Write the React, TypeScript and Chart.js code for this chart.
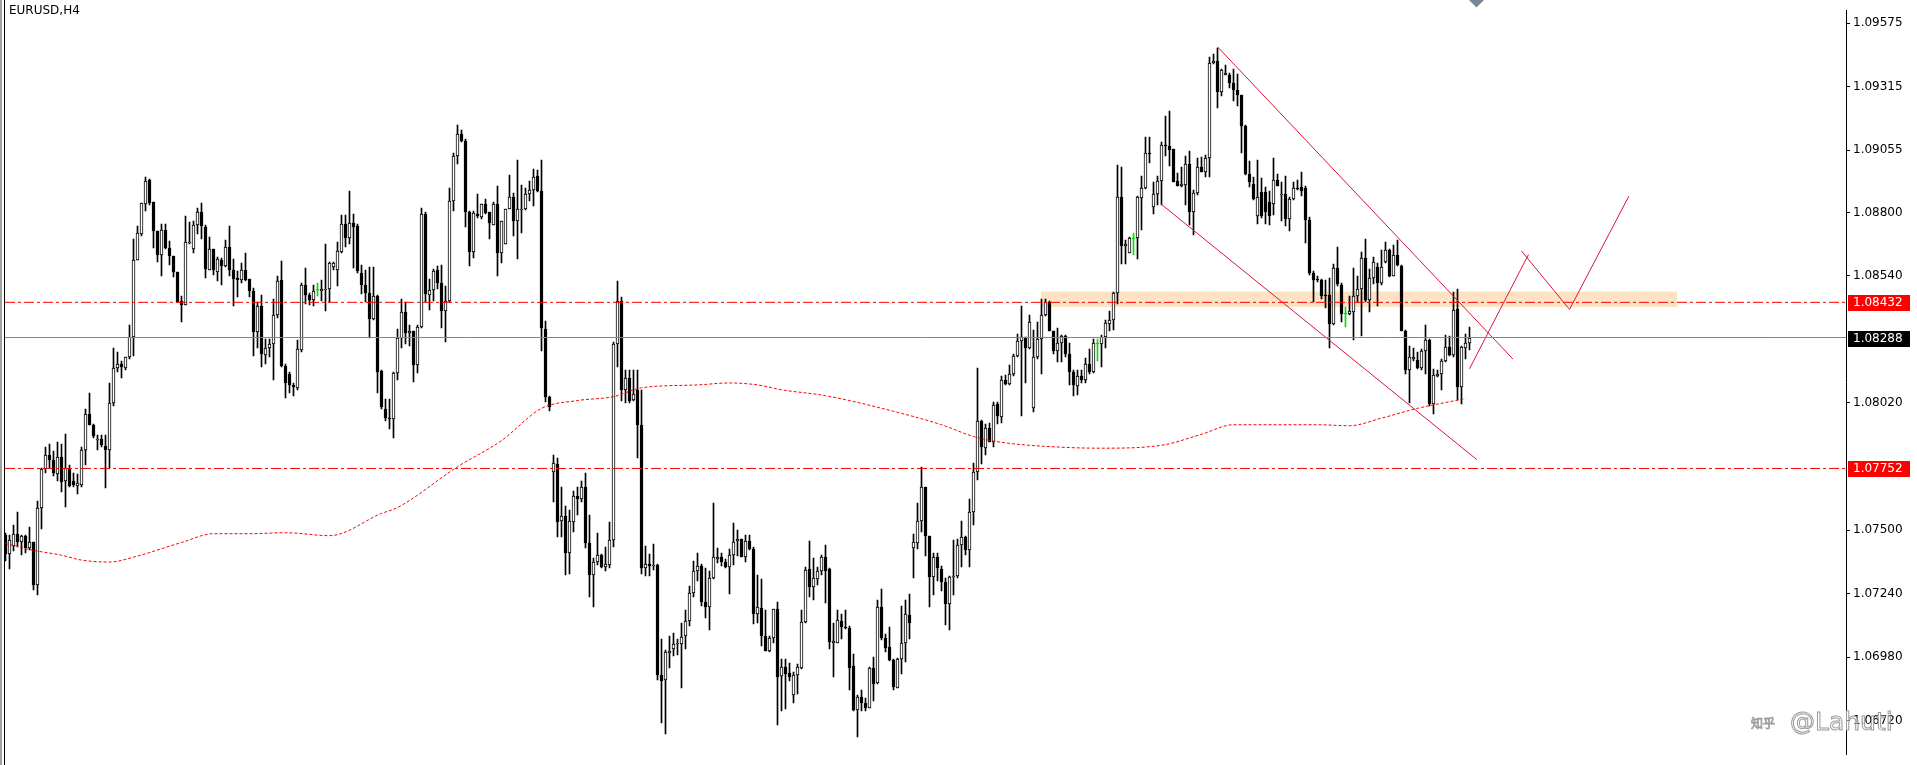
import React, { useEffect, useRef } from "react";
import { Chart, registerables } from "chart.js";
Chart.register(...registerables);

const symbolTitle = "EURUSD,H4";

const opens = [
1.07479,1.07403,1.07435,1.07482,1.07452,1.07475,1.07426,1.07452,1.07273,1.07589,
1.07748,1.07808,1.07786,1.07731,1.07798,1.07702,1.07752,1.07702,1.07682,1.07686,
1.07828,1.07974,1.07930,1.07867,1.07871,1.07844,1.07828,1.08021,1.08164,1.08180,
1.08164,1.08207,1.08290,1.08605,1.08711,1.08833,1.08933,1.08844,1.08725,1.08625,
1.08727,1.08656,1.08622,1.08555,1.08439,1.08422,1.08674,1.08652,1.08747,1.08802,
1.08740,1.08565,1.08652,1.08555,1.08605,1.08581,1.08658,1.08565,1.08532,1.08523,
1.08565,1.08528,1.08479,1.08310,1.08419,1.08217,1.08246,1.08260,1.08379,1.08523,
1.08173,1.08138,1.08094,1.08080,1.08236,1.08505,1.08462,1.08443,1.08482,1.08479,
1.08483,1.08486,1.08578,1.08563,1.08638,1.08754,1.08695,1.08758,1.08744,1.08552,
1.08505,1.08472,1.08363,1.08459,1.08151,1.07997,1.07957,1.07954,1.08143,1.08284,
1.08393,1.08307,1.08316,1.08174,1.08330,1.08794,1.08462,1.08484,1.08563,1.08513,
1.08396,1.08436,1.08845,1.09033,1.09121,1.09091,1.08802,1.08639,1.08794,1.08781,
1.08834,1.08802,1.08749,1.08834,1.08632,1.08672,1.08816,1.08865,1.08763,1.08808,
1.08812,1.08874,1.08891,1.08948,1.08887,1.08324,1.08045,1.07738,1.07771,1.07539,
1.07559,1.07404,1.07534,1.07639,1.07629,1.07676,1.07446,1.07315,1.07368,1.07397,
1.07350,1.07357,1.07459,1.08261,1.08436,1.08075,1.08121,1.08031,1.08075,1.07931,
1.07344,1.07360,1.07354,1.07357,1.06908,1.06886,1.06996,1.07012,1.07032,1.07032,
1.07065,1.07129,1.07244,1.07333,1.07353,1.07207,1.07184,1.07304,1.07381,1.07388,
1.07370,1.07350,1.07397,1.07454,1.07463,1.07390,1.07457,1.07421,1.07158,1.07182,
1.07065,1.07003,1.07058,1.07178,1.06902,1.06939,1.06915,1.06823,1.06908,1.06936,
1.07125,1.07341,1.07267,1.07301,1.07331,1.07388,1.07341,1.07038,1.07038,1.07129,
1.07105,1.07098,1.06943,1.06762,1.06815,1.06793,1.06773,1.06935,1.06872,1.07187,
1.07058,1.07022,1.06969,1.06855,1.06972,1.07038,1.07151,1.07426,1.07447,1.07539,
1.07676,1.07474,1.07307,1.07388,1.07341,1.07288,1.07198,1.07307,1.07311,1.07439,
1.07470,1.07417,1.07572,1.07738,1.07948,1.07835,1.07918,1.07862,1.08014,1.07961,
1.08116,1.08098,1.08140,1.08213,1.08273,1.08289,1.08247,1.08001,1.08209,1.08280,
1.08379,1.08432,1.08316,1.08233,1.08266,1.08293,1.08220,1.08147,1.08090,1.08130,
1.08116,1.08178,1.08147,1.08262,1.08262,1.08289,1.08342,1.08359,1.08470,1.08864,
1.08661,1.08634,1.08691,1.08694,1.08860,1.08900,1.09043,1.08824,1.08877,1.08928,
1.09077,1.09070,1.09059,1.08930,1.08910,1.08913,1.08997,1.08802,1.08881,1.08984,
1.08966,1.09023,1.09413,1.09419,1.09293,1.09362,1.09362,1.09329,1.09302,1.09282,
1.09152,1.08957,1.08917,1.08784,1.08884,1.08884,1.08841,1.08834,1.08934,1.08871,
1.08877,1.08775,1.08857,1.08900,1.08904,1.08901,1.08771,1.08551,1.08528,1.08523,
1.08462,1.08462,1.08342,1.08572,1.08502,1.08386,1.08386,1.08393,1.08456,1.08488,
1.08612,1.08443,1.08532,1.08576,1.08510,1.08599,1.08645,1.08541,1.08625,1.08581,
1.08316,1.08154,1.08200,1.08196,1.08164,1.08233,1.08276,1.08014,1.08130,1.08140,
1.08191,1.08249,1.08217,1.08406,1.08085,1.08247,1.08266
];

const highs = [
1.07486,1.07479,1.07521,1.07572,1.07479,1.07479,1.07512,1.07452,1.07618,1.07755,
1.07841,1.07852,1.07822,1.07859,1.07852,1.07895,1.07768,1.07735,1.07729,1.07841,
1.07994,1.08061,1.07934,1.07888,1.07888,1.07888,1.08100,1.08246,1.08227,1.08193,
1.08207,1.08339,1.08691,1.08744,1.08837,1.08946,1.08936,1.08844,1.08725,1.08754,
1.08751,1.08685,1.08622,1.08555,1.08459,1.08784,1.08762,1.08764,1.08818,1.08837,
1.08748,1.08698,1.08652,1.08616,1.08612,1.08687,1.08744,1.08608,1.08559,1.08594,
1.08632,1.08528,1.08492,1.08432,1.08463,1.08280,1.08280,1.08446,1.08539,1.08602,
1.08180,1.08147,1.08100,1.08276,1.08512,1.08572,1.08472,1.08501,1.08512,1.08525,
1.08669,1.08598,1.08598,1.08678,1.08791,1.08791,1.08887,1.08794,1.08751,1.08585,
1.08565,1.08578,1.08578,1.08462,1.08154,1.08037,1.08037,1.08147,1.08323,1.08446,
1.08433,1.08340,1.08316,1.08340,1.08818,1.08802,1.08526,1.08569,1.08582,1.08586,
1.08500,1.08898,1.09044,1.09157,1.09137,1.09100,1.08805,1.08805,1.08874,1.08834,
1.08855,1.08802,1.08842,1.08909,1.08765,1.08816,1.08954,1.08878,1.09015,1.08911,
1.08898,1.08927,1.08978,1.08975,1.09015,1.08354,1.08048,1.07809,1.07795,1.07676,
1.07599,1.07583,1.07660,1.07676,1.07700,1.07732,1.07560,1.07384,1.07487,1.07400,
1.07430,1.07532,1.08270,1.08520,1.08453,1.08157,1.08157,1.08157,1.08157,1.08075,
1.07433,1.07401,1.07443,1.07360,1.07052,1.07009,1.07068,1.07078,1.07052,1.07118,
1.07174,1.07271,1.07373,1.07408,1.07360,1.07346,1.07333,1.07609,1.07427,1.07406,
1.07381,1.07423,1.07527,1.07501,1.07463,1.07479,1.07479,1.07430,1.07315,1.07301,
1.07171,1.07065,1.07178,1.07204,1.06972,1.06972,1.06956,1.06919,1.06952,1.07171,
1.07350,1.07457,1.07384,1.07350,1.07397,1.07437,1.07344,1.07121,1.07171,1.07158,
1.07171,1.07108,1.06992,1.06826,1.06846,1.06813,1.06939,1.06979,1.07214,1.07258,
1.07076,1.07105,1.06972,1.06975,1.07191,1.07214,1.07240,1.07483,1.07609,1.07758,
1.07678,1.07477,1.07404,1.07404,1.07354,1.07304,1.07311,1.07461,1.07463,1.07536,
1.07477,1.07625,1.07775,1.08165,1.07952,1.07935,1.07939,1.08024,1.08024,1.08130,
1.08134,1.08174,1.08220,1.08302,1.08417,1.08289,1.08382,1.08320,1.08353,1.08446,
1.08446,1.08439,1.08316,1.08329,1.08300,1.08300,1.08266,1.08156,1.08156,1.08156,
1.08204,1.08240,1.08280,1.08280,1.08297,1.08359,1.08395,1.08475,1.08993,1.08984,
1.08687,1.08698,1.08714,1.08868,1.08950,1.09107,1.09110,1.08924,1.08950,1.09090,
1.09196,1.09216,1.09059,1.08961,1.08988,1.09030,1.09050,1.08891,1.09023,1.09027,
1.09037,1.09435,1.09448,1.09475,1.09389,1.09405,1.09369,1.09389,1.09366,1.09282,
1.09156,1.09010,1.08944,1.09014,1.08940,1.08904,1.08887,1.09023,1.08957,1.08924,
1.08950,1.08864,1.08924,1.08934,1.08964,1.08910,1.08780,1.08559,1.08541,1.08528,
1.08525,1.08532,1.08589,1.08658,1.08512,1.08413,1.08459,1.08572,1.08539,1.08638,
1.08691,1.08568,1.08618,1.08594,1.08645,1.08678,1.08652,1.08665,1.08687,1.08585,
1.08320,1.08253,1.08247,1.08227,1.08240,1.08340,1.08280,1.08160,1.08156,1.08200,
1.08297,1.08293,1.08475,1.08488,1.08253,1.08302,1.08333
];

const lows = [
1.07373,1.07342,1.07413,1.07432,1.07399,1.07406,1.07419,1.07253,1.07233,1.07503,
1.07735,1.07755,1.07722,1.07702,1.07656,1.07596,1.07675,1.07675,1.07649,1.07675,
1.07768,1.07928,1.07875,1.07828,1.07841,1.07673,1.07755,1.08007,1.08147,1.08123,
1.08154,1.08200,1.08213,1.08605,1.08705,1.08804,1.08830,1.08656,1.08598,1.08539,
1.08652,1.08585,1.08536,1.08432,1.08350,1.08420,1.08671,1.08632,1.08711,1.08691,
1.08532,1.08563,1.08545,1.08519,1.08501,1.08578,1.08541,1.08419,1.08452,1.08512,
1.08519,1.08452,1.08213,1.08246,1.08167,1.08180,1.08207,1.08114,1.08366,1.08167,
1.08041,1.08061,1.08047,1.08074,1.08227,1.08426,1.08422,1.08416,1.08459,1.08439,
1.08395,1.08435,1.08565,1.08499,1.08632,1.08658,1.08669,1.08572,1.08552,1.08466,
1.08432,1.08284,1.08359,1.08061,1.07994,1.07948,1.07914,1.07875,1.08114,1.08247,
1.08261,1.08254,1.08104,1.08141,1.08327,1.08433,1.08400,1.08436,1.08486,1.08327,
1.08271,1.08433,1.08805,1.08998,1.09087,1.08739,1.08582,1.08612,1.08776,1.08772,
1.08794,1.08692,1.08749,1.08539,1.08595,1.08670,1.08814,1.08705,1.08610,1.08715,
1.08808,1.08845,1.08825,1.08882,1.08231,1.08024,1.07988,1.07616,1.07470,1.07470,
1.07317,1.07321,1.07494,1.07560,1.07613,1.07426,1.07227,1.07187,1.07357,1.07344,
1.07333,1.07346,1.07431,1.08168,1.08028,1.08022,1.08019,1.08028,1.07796,1.07318,
1.07311,1.07311,1.07337,1.06886,1.06709,1.06667,1.06935,1.06983,1.06988,1.06852,
1.07012,1.07107,1.07224,1.07291,1.07191,1.07138,1.07091,1.07301,1.07364,1.07354,
1.07346,1.07238,1.07357,1.07394,1.07388,1.07370,1.07417,1.07115,1.07118,1.07025,
1.07003,1.06999,1.07038,1.06700,1.06759,1.06766,1.06882,1.06793,1.06829,1.06932,
1.07121,1.07224,1.07214,1.07275,1.07317,1.07200,1.07012,1.06899,1.07036,1.07052,
1.07096,1.06846,1.06759,1.06653,1.06759,1.06759,1.06770,1.06799,1.06868,1.07049,
1.07001,1.06965,1.06846,1.06853,1.06912,1.06959,1.07052,1.07304,1.07421,1.07490,
1.07394,1.07187,1.07235,1.07291,1.07251,1.07111,1.07092,1.07235,1.07304,1.07350,
1.07397,1.07350,1.07519,1.07705,1.07771,1.07806,1.07859,1.07838,1.07935,1.07939,
1.08094,1.08094,1.08130,1.08209,1.07965,1.08100,1.08240,1.07984,1.08200,1.08140,
1.08376,1.08313,1.08220,1.08187,1.08187,1.08207,1.08094,1.08050,1.08054,1.08100,
1.08103,1.08140,1.08143,1.08193,1.08167,1.08247,1.08313,1.08320,1.08426,1.08589,
1.08589,1.08632,1.08625,1.08608,1.08727,1.08897,1.09004,1.08794,1.08831,1.08831,
1.09030,1.08990,1.08924,1.08908,1.08904,1.08831,1.08749,1.08709,1.08871,1.08964,
1.08944,1.08944,1.09409,1.09229,1.09276,1.09362,1.09309,1.09256,1.09236,1.09043,
1.08953,1.08904,1.08851,1.08754,1.08778,1.08751,1.08749,1.08791,1.08908,1.08764,
1.08745,1.08725,1.08851,1.08891,1.08868,1.08674,1.08545,1.08435,1.08515,1.08446,
1.08409,1.08247,1.08340,1.08499,1.08353,1.08333,1.08379,1.08276,1.08432,1.08293,
1.08435,1.08393,1.08506,1.08417,1.08502,1.08594,1.08535,1.08539,1.08581,1.08313,
1.08140,1.08021,1.08193,1.08160,1.08154,1.08138,1.08007,1.07974,1.08127,1.08074,
1.08187,1.08213,1.08207,1.08034,1.08014,1.08200,1.08236
];

const closes = [
1.07403,1.07459,1.07482,1.07452,1.07475,1.07426,1.07452,1.07273,1.07589,1.07748,
1.07808,1.07788,1.07735,1.07798,1.07695,1.07752,1.07682,1.07686,1.07691,1.07828,
1.07974,1.07930,1.07885,1.07871,1.07848,1.07828,1.08021,1.08164,1.08180,1.08167,
1.08207,1.08290,1.08605,1.08714,1.08837,1.08930,1.08837,1.08725,1.08625,1.08727,
1.08656,1.08622,1.08555,1.08435,1.08422,1.08678,1.08678,1.08747,1.08802,1.08744,
1.08568,1.08652,1.08563,1.08608,1.08581,1.08658,1.08563,1.08528,1.08525,1.08565,
1.08525,1.08479,1.08310,1.08419,1.08220,1.08246,1.08260,1.08379,1.08519,1.08173,
1.08100,1.08094,1.08084,1.08240,1.08505,1.08462,1.08443,1.08479,1.08482,1.08486,
1.08488,1.08592,1.08592,1.08642,1.08754,1.08695,1.08758,1.08740,1.08559,1.08505,
1.08472,1.08363,1.08459,1.08147,1.08005,1.07957,1.07954,1.08143,1.08284,1.08393,
1.08307,1.08316,1.08174,1.08330,1.08794,1.08466,1.08484,1.08559,1.08513,1.08396,
1.08436,1.08845,1.09033,1.09121,1.09091,1.08802,1.08639,1.08798,1.08785,1.08834,
1.08798,1.08755,1.08836,1.08632,1.08765,1.08816,1.08865,1.08765,1.08812,1.08816,
1.08874,1.08891,1.08944,1.08887,1.08327,1.08045,1.08002,1.07775,1.07532,1.07559,
1.07408,1.07536,1.07639,1.07629,1.07676,1.07446,1.07315,1.07370,1.07397,1.07350,
1.07361,1.07461,1.08261,1.08436,1.08075,1.08121,1.08028,1.08055,1.07929,1.07344,
1.07360,1.07354,1.07357,1.06908,1.06882,1.06999,1.07005,1.07034,1.07036,1.07062,
1.07129,1.07244,1.07333,1.07353,1.07207,1.07184,1.07304,1.07388,1.07388,1.07368,
1.07350,1.07397,1.07453,1.07463,1.07390,1.07457,1.07421,1.07158,1.07184,1.07065,
1.07005,1.07058,1.07178,1.06899,1.06939,1.06912,1.06899,1.06908,1.06939,1.07125,
1.07337,1.07267,1.07304,1.07331,1.07388,1.07333,1.07041,1.07045,1.07131,1.07105,
1.07098,1.06935,1.06762,1.06815,1.06793,1.06773,1.06935,1.06868,1.07187,1.07058,
1.07018,1.06969,1.06859,1.06972,1.07038,1.07155,1.07121,1.07450,1.07539,1.07676,
1.07474,1.07307,1.07390,1.07344,1.07288,1.07198,1.07307,1.07311,1.07439,1.07470,
1.07417,1.07572,1.07738,1.07948,1.07838,1.07918,1.07862,1.08010,1.07965,1.08114,
1.08098,1.08140,1.08213,1.08273,1.08289,1.08247,1.08353,1.08209,1.08280,1.08379,
1.08432,1.08316,1.08233,1.08266,1.08293,1.08220,1.08147,1.08094,1.08130,1.08116,
1.08178,1.08147,1.08266,1.08262,1.08289,1.08346,1.08359,1.08470,1.08864,1.08661,
1.08672,1.08694,1.08691,1.08864,1.08900,1.09043,1.09041,1.08877,1.08930,1.09077,
1.09070,1.09057,1.08926,1.08910,1.08916,1.08997,1.08802,1.08881,1.08984,1.08966,
1.09023,1.09413,1.09419,1.09293,1.09382,1.09369,1.09329,1.09302,1.09282,1.09152,
1.08957,1.08926,1.08857,1.08864,1.08784,1.08802,1.08784,1.08934,1.08910,1.08877,
1.08775,1.08857,1.08900,1.08895,1.08887,1.08771,1.08551,1.08525,1.08523,1.08456,
1.08456,1.08342,1.08572,1.08506,1.08386,1.08386,1.08395,1.08456,1.08488,1.08612,
1.08443,1.08532,1.08599,1.08510,1.08576,1.08645,1.08539,1.08625,1.08585,1.08316,
1.08154,1.08207,1.08207,1.08164,1.08233,1.08276,1.08014,1.08134,1.08140,1.08191,
1.08249,1.08217,1.08399,1.08087,1.08249,1.08266,1.08288
];

const greenDoji = [78, 273, 282, 335];

const maIndex = [0,7,14,19,26,32,44,52,61,70,81,94,98,113,124,134,143,152,159,173,181,188,194,205,222,234,242,249,264,274,289,299,307,328,336,344,353,365];
const maValue = [1.07445,1.07417,1.07397,1.07377,1.07369,1.07389,1.07449,1.07485,1.07485,1.07489,1.07477,1.07568,1.07592,1.07759,1.07866,1.07998,1.08030,1.08046,1.08082,1.08094,1.08102,1.08094,1.08074,1.08050,1.07986,1.07931,1.07883,1.07859,1.07839,1.07835,1.07847,1.07892,1.07931,1.07931,1.07927,1.07958,1.07998,1.08038];

const priceTicks = [1.09575, 1.09315, 1.09055, 1.088, 1.0854, 1.0802, 1.075, 1.0724, 1.0698, 1.0672];
const redLevels = [1.08432, 1.07752];
const lastPrice = 1.08288;

const zoneX = [258.9, 417.9];
const zoneY = [1.08413, 1.08476];

const channelUpperX = [303, 376.85];
const channelUpperY = [1.09478, 1.082];
const channelLowerX = [288.9, 367.85];
const channelLowerY = [1.08834, 1.07788];
const pathX = [[366, 380.75], [379, 391], [391, 405.85]];
const pathY = [[1.0816, 1.08628], [1.08642, 1.08403], [1.08403, 1.08867]];

const shiftMarkerIndex = 367.75;

const X_MIN = -0.125;
const X_MAX = 460.125;
const Y_MIN = 1.0658;
const Y_MAX = 1.0962776;

export default function App() {
  const ref = useRef<HTMLCanvasElement | null>(null);

  useEffect(() => {
    document.body.style.margin = "0";
    const canvas = ref.current;
    if (!canvas) return;

    const isGreen = (i: number) => greenDoji.includes(i);
    const wickData = closes.map((c, i) => ({ x: i, y: [lows[i], highs[i]] }));
    const bodyData = closes.map((c, i) => ({ x: i, y: [opens[i], c] }));
    const bodyBg = closes.map((c, i) => (isGreen(i) ? "#00e000" : c >= opens[i] ? "#ffffff" : "#000000"));
    const bodyBorder = closes.map((c, i) => (isGreen(i) ? "#00e000" : "#000000"));
    const wickColor = closes.map((c, i) => (isGreen(i) ? "#00e000" : "#000000"));

    const hLine = (v: number) => [
      { x: X_MIN, y: v },
      { x: X_MAX, y: v },
    ];
    const seg = (xs: number[], ys: number[]) => xs.map((x, k) => ({ x, y: ys[k] }));

    const lineBase = {
      type: "line" as const,
      pointRadius: 0,
      borderWidth: 1,
      fill: false,
      order: 0,
    };

    const datasets: any[] = [
      ...redLevels.map((v) => ({ ...lineBase, data: hLine(v), borderColor: "#ff0000", borderDash: [10, 3, 3, 3] })),
      { ...lineBase, data: hLine(lastPrice), borderColor: "#778899" },
      {
        ...lineBase,
        data: maIndex.map((x, k) => ({ x, y: maValue[k] })),
        borderColor: "#ff0000",
        borderDash: [3, 2],
        cubicInterpolationMode: "monotone",
      },
      { ...lineBase, data: seg(channelUpperX, channelUpperY), borderColor: "#dc143c" },
      { ...lineBase, data: seg(channelLowerX, channelLowerY), borderColor: "#dc143c" },
      ...pathX.map((xs, k) => ({ ...lineBase, data: seg(xs, pathY[k]), borderColor: "#dc143c" })),
      {
        type: "bar",
        data: bodyData,
        barThickness: 3,
        borderWidth: 1,
        borderSkipped: false,
        minBarLength: 1,
        backgroundColor: bodyBg,
        borderColor: bodyBorder,
        grouped: false,
        order: 1,
      },
      {
        type: "bar",
        data: wickData,
        barThickness: 1,
        borderWidth: 0,
        backgroundColor: wickColor,
        grouped: false,
        order: 2,
      },
    ];

    const overlay = {
      id: "overlay",
      afterDatasetsUpdate(chart: any) {
        // snap candle bars to whole pixels so they render crisp like the terminal
        chart.data.datasets.forEach((ds: any, di: number) => {
          if (ds.type !== "bar") return;
          const meta = chart.getDatasetMeta(di);
          meta.data.forEach((el: any) => {
            let top = Math.round(Math.min(el.y, el.base));
            let bottom = Math.round(Math.max(el.y, el.base));
            if (bottom - top < 1) bottom = top + 1;
            el.y = top;
            el.base = bottom;
            el.height = bottom - top;
          });
        });
      },
      beforeDatasetsDraw(chart: any) {
        const { ctx, scales } = chart;
        const x0 = scales.x.getPixelForValue(zoneX[0]);
        const x1 = scales.x.getPixelForValue(zoneX[1]);
        const y0 = scales.y.getPixelForValue(zoneY[1]);
        const y1 = scales.y.getPixelForValue(zoneY[0]);
        ctx.save();
        ctx.fillStyle = "#fde2c3";
        ctx.fillRect(x0, y0, x1 - x0, y1 - y0);
        ctx.restore();
      },
      afterDraw(chart: any) {
        const { ctx, chartArea, scales } = chart;
        ctx.save();
        ctx.fillStyle = "#a0a0a0";
        ctx.fillRect(0, 0, 2, chart.height);
        ctx.fillStyle = "#000000";
        ctx.fillRect(4, 0, 1, chart.height);
        const labels = [
          { v: redLevels[0], bg: "#ff0000" },
          { v: lastPrice, bg: "#000000" },
          { v: redLevels[1], bg: "#ff0000" },
        ];
        ctx.font = '12px "DejaVu Sans"';
        ctx.textBaseline = "middle";
        ctx.textAlign = "left";
        for (const l of labels) {
          const py = Math.round(scales.y.getPixelForValue(l.v));
          ctx.fillStyle = l.bg;
          ctx.fillRect(chartArea.right + 2, py - 7, 62, 16);
          ctx.fillStyle = "#ffffff";
          ctx.fillText(l.v.toFixed(5), chartArea.right + 7, py + 1);
        }
        const cx = scales.x.getPixelForValue(shiftMarkerIndex);
        ctx.fillStyle = "#778899";
        ctx.beginPath();
        ctx.moveTo(cx - 7.5, 0);
        ctx.lineTo(cx + 7.5, 0);
        ctx.lineTo(cx, 7.5);
        ctx.closePath();
        ctx.fill();
        ctx.restore();
      },
    };

    const chart = new Chart(canvas, {
      type: "bar",
      data: { datasets },
      options: {
        responsive: false,
        maintainAspectRatio: false,
        animation: false,
        events: [],
        layout: { padding: { left: 5, right: 0, top: 0, bottom: 0 } },
        plugins: {
          legend: { display: false },
          tooltip: { enabled: false },
        },
        scales: {
          x: {
            type: "linear",
            min: X_MIN,
            max: X_MAX,
            display: false,
            offset: false,
            grid: { display: false },
          },
          y: {
            type: "linear",
            position: "right",
            min: Y_MIN,
            max: Y_MAX,
            beginAtZero: false,
            afterFit: (s: any) => {
              s.width = 71;
            },
            afterBuildTicks: (s: any) => {
              s.ticks = priceTicks.map((v) => ({ value: v }));
            },
            ticks: {
              callback: (v: any) => Number(v).toFixed(5),
              color: "#000000",
              font: { family: "DejaVu Sans", size: 12 },
              padding: 3,
              autoSkip: false,
              maxRotation: 0,
            },
            grid: { display: true, drawOnChartArea: false, drawTicks: true, tickLength: 4, color: "#000000" },
            border: { display: true, color: "#000000", width: 1 },
          },
        },
      } as any,
      plugins: [overlay],
    });

    return () => chart.destroy();
  }, []);

  return (
    <div style={{ position: "relative", width: 1917, height: 765, overflow: "hidden", background: "#ffffff" }}>
      <canvas ref={ref} width={1917} height={765} style={{ position: "absolute", left: 0, top: 0, display: "block" }} />
      <div
        style={{
          position: "absolute",
          left: 9,
          top: 3,
          font: '12px "DejaVu Sans", sans-serif',
          color: "#000",
          whiteSpace: "nowrap",
        }}
      >
        {symbolTitle}
      </div>
      <div
        style={{
          position: "absolute",
          left: 1751,
          top: 711,
          font: '12px "Noto Sans CJK SC", sans-serif',
          lineHeight: "24px",
          color: "rgba(255,255,255,0.5)",
          WebkitTextStroke: "0.8px #9a9a9a",
          whiteSpace: "nowrap",
        }}
      >
        知乎
      </div>
      <div
        style={{
          position: "absolute",
          left: 1790,
          top: 709,
          font: '25px "DejaVu Sans", sans-serif',
          lineHeight: "25px",
          color: "rgba(255,255,255,0.5)",
          WebkitTextStroke: "1px #9a9a9a",
          whiteSpace: "nowrap",
        }}
      >
        @Lahuti
      </div>
    </div>
  );
}
